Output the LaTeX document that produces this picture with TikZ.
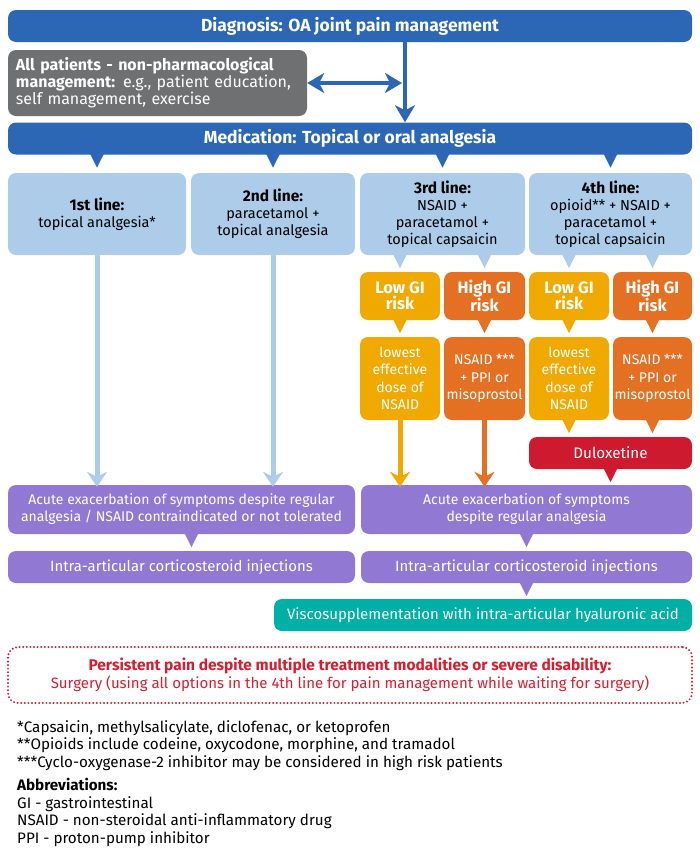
\documentclass[tikz,border=0pt]{standalone}
\usepackage{fontspec}
\setmainfont{Fira Sans}
\usetikzlibrary{arrows.meta}
\definecolor{dxblue}{RGB}{44,103,182}
\definecolor{nongray}{RGB}{110,112,114}
\definecolor{lineblue}{RGB}{172,204,234}
\definecolor{lowamber}{RGB}{240,169,0}
\definecolor{highorange}{RGB}{228,112,36}
\definecolor{duloxred}{RGB}{206,26,46}
\definecolor{acutepurple}{RGB}{145,120,210}
\definecolor{viscoteal}{RGB}{0,176,166}
\definecolor{surgred}{RGB}{214,30,48}
\newcommand{\pointer}[2]{\fill[#2] (#1) ++(-7,-1) -- ++(14,0) -- ++(-7,14) -- cycle;}
\newcommand{\head}[1]{{\fontsize{15.5}{17}\selectfont\bfseries #1}}
\tikzset{
  box/.style={rounded corners=8pt, inner sep=0pt, align=center, text=white,
    font=\fontsize{14}{17}\selectfont},
  bar/.style={box, fill=dxblue, minimum width=684pt, minimum height=32pt,
    font=\bfseries\fontsize{17.5}{19}\selectfont},
  linebox/.style={box, fill=lineblue, text=black, minimum height=82pt,
    font=\fontsize{14.5}{17}\selectfont},
  riskbox/.style={box, minimum width=80pt, minimum height=48pt,
    font=\bfseries\fontsize{16.5}{16.5}\selectfont},
  drugbox/.style={box, minimum width=80pt, minimum height=83pt,
    font=\fontsize{14}{17.5}\selectfont},
  acutebox/.style={box, fill=acutepurple, minimum height=49pt},
  injbox/.style={box, fill=acutepurple, minimum height=32pt, font=\fontsize{14.9}{17}\selectfont},
  flow/.style={line width=5pt, -{Stealth[length=15pt, width=20pt, inset=5pt]}},
  mainflow/.style={line width=3.5pt, dxblue, -{Stealth[length=17pt, width=20pt, inset=5pt]}}
}
\begin{document}
\begin{tikzpicture}[x=1pt, y=-1pt]
  \useasboundingbox (0,0) rectangle (700,854);
  \node[bar] (diag) at (350,26) {Diagnosis: OA joint pain management};
  \node[box, fill=nongray, minimum width=299pt, minimum height=66pt, text width=283pt,
    align=left, font=\fontsize{16}{17}\selectfont] (allpat) at (157.5,83)
    {\textbf{All patients - non-pharmacological}\\\textbf{management:} e.g., patient education,\\self management, exercise};
  \node[bar] (med) at (350,138.5) {Medication: Topical or oral analgesia};
  \coordinate (split) at (405,83);
  \draw[mainflow] (diag.south -| split) -- (med.north -| split);
  \draw[mainflow, {Stealth[length=17pt, width=20pt, inset=5pt]}-{Stealth[length=17pt, width=20pt, inset=5pt]}]
    (allpat.east |- split) -- ([xshift=-3pt]split);

  \node[linebox, minimum width=178pt] (b1) at (97,214) {\head{1st line:}\\topical analgesia*};
  \node[linebox, minimum width=164pt] (b2) at (273,214) {\head{2nd line:}\\paracetamol +\\topical analgesia};
  \node[linebox, minimum width=165pt] (b3) at (442.5,214) {\head{3rd line:}\\NSAID +\\paracetamol +\\topical capsaicin};
  \node[linebox, minimum width=163pt] (b4) at (610.5,214) {\head{4th line:}\\opioid** + NSAID +\\paracetamol +\\topical capsaicin};

  \node[riskbox, fill=lowamber] (lowa) at (400,296) {Low GI\\risk};
  \node[riskbox, fill=highorange, minimum width=81pt] (highb) at (484.5,296) {High GI\\risk};
  \node[riskbox, fill=lowamber] (lowc) at (569,296) {Low GI\\risk};
  \node[riskbox, fill=highorange, minimum width=79pt] (highd) at (652.5,296) {High GI\\risk};
  \node[drugbox, fill=lowamber] (dosea) at (400,378.5) {lowest\\effective\\dose of\\NSAID};
  \node[drugbox, fill=highorange, minimum width=81pt] (nsaidb) at (484.5,378.5) {NSAID ***\\+ PPI or\\misoprostol};
  \node[drugbox, fill=lowamber] (dosec) at (569,378.5) {lowest\\effective\\dose of\\NSAID};
  \node[drugbox, fill=highorange, minimum width=79pt] (nsaidd) at (652.5,378.5) {NSAID ***\\+ PPI or\\misoprostol};
  \node[box, fill=duloxred, minimum width=163pt, minimum height=32pt,
    font=\fontsize{15.2}{17}\selectfont] (dulox) at (610.5,453) {Duloxetine};

  \node[acutebox, minimum width=347pt] (acuteL) at (181.5,509.5)
    {Acute exacerbation of symptoms despite regular\\analgesia / NSAID contraindicated or not tolerated};
  \node[acutebox, minimum width=331pt] (acuteR) at (526.5,509.5)
    {Acute exacerbation of symptoms\\despite regular analgesia};
  \node[injbox, minimum width=347pt] (injL) at (181.5,567) {Intra-articular corticosteroid injections};
  \node[injbox, minimum width=331pt] (injR) at (526.5,567) {Intra-articular corticosteroid injections};
  \node[box, fill=viscoteal, minimum width=418pt, minimum height=32pt,
    font=\fontsize{15}{17}\selectfont] (visco) at (483,615)
    {Viscosupplementation with intra-articular hyaluronic acid};
  \coordinate (injtip) at ([xshift=10pt]acuteL.south);

  \pointer{med.south -| b1}{dxblue}
  \pointer{med.south -| b2}{dxblue}
  \pointer{med.south -| b3}{dxblue}
  \pointer{med.south -| b4}{dxblue}
  \pointer{b3.south -| lowa}{lineblue}
  \pointer{b3.south -| highb}{lineblue}
  \pointer{b4.south -| lowc}{lineblue}
  \pointer{b4.south -| highd}{lineblue}
  \pointer{lowa.south}{lowamber}
  \pointer{highb.south}{highorange}
  \pointer{lowc.south}{lowamber}
  \pointer{highd.south}{highorange}
  \pointer{dosec.south}{lowamber}
  \pointer{nsaidd.south}{highorange}
  \pointer{dulox.south}{duloxred}
  \pointer{injtip}{acutepurple}
  \pointer{acuteR.south}{acutepurple}
  \pointer{injR.south}{acutepurple}

  \draw[flow, lineblue] (b1.south) -- ([yshift=-2pt]b1.south |- acuteL.north);
  \draw[flow, lineblue] (b2.south) -- ([yshift=-2pt]b2.south |- acuteL.north);
  \draw[flow, lowamber] (dosea.south) -- ([yshift=-2pt]dosea.south |- acuteR.north);
  \draw[flow, highorange] (nsaidb.south) -- ([yshift=-2pt]nsaidb.south |- acuteR.north);

  \node[draw=surgred, line width=2.2pt, line cap=round, dash pattern=on 0pt off 3.6pt, rounded corners=10pt,
    minimum width=684pt, minimum height=56pt, align=center, text=surgred,
    font=\fontsize{15}{18}\selectfont] (surgery) at (350,675)
    {{\fontsize{15.5}{18}\selectfont\bfseries Persistent pain despite multiple treatment modalities or severe disability:}\\
     Surgery (using all options in the 4th line for pain management while waiting for surgery)};

  \node[anchor=north west, inner sep=0pt, align=left, font=\fontsize{15.2}{17.5}\selectfont] (notes) at (17,720)
    {*Capsaicin, methylsalicylate, diclofenac, or ketoprofen\\
     **Opioids include codeine, oxycodone, morphine, and tramadol\\
     ***Cyclo-oxygenase-2 inhibitor may be considered in high risk patients};
  \node[anchor=north west, inner sep=0pt, align=left, font=\fontsize{15.2}{17.5}\selectfont] (abbrev) at (17,778)
    {\textbf{Abbreviations:}\\
     GI - gastrointestinal\\
     NSAID - non-steroidal anti-inflammatory drug\\
     PPI - proton-pump inhibitor};
\end{tikzpicture}
\end{document}
